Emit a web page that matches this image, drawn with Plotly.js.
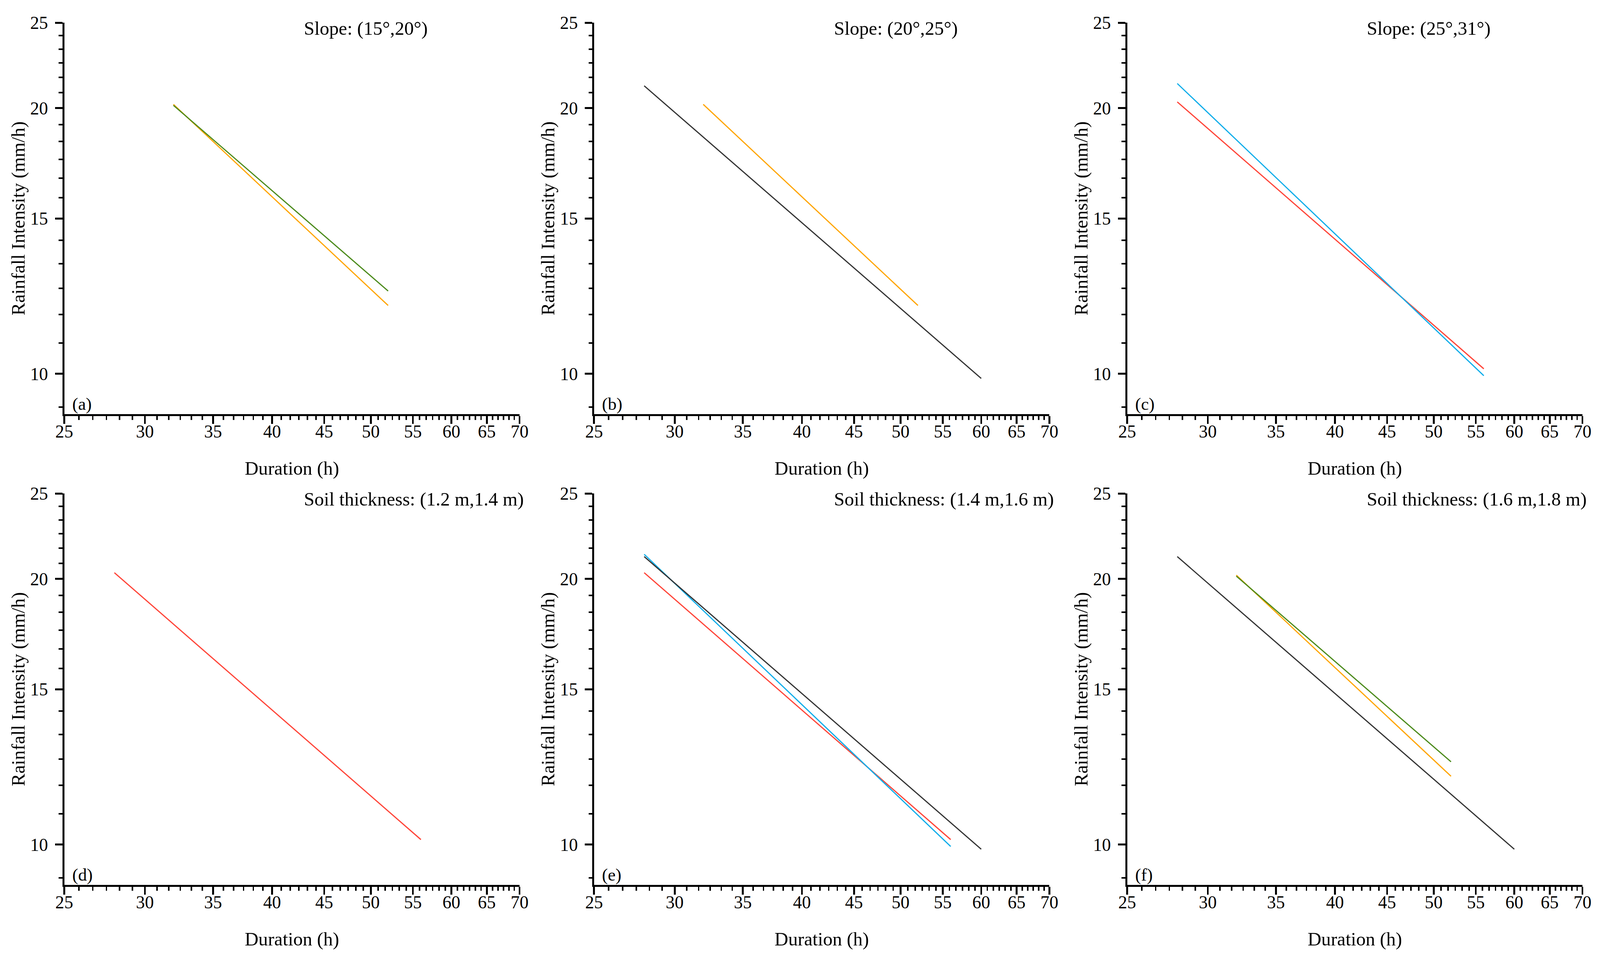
<!DOCTYPE html>
<html><head><meta charset="utf-8">
<script src="https://cdn.plot.ly/plotly-3.0.1.min.js"></script>
<style>html,body{margin:0;padding:0;background:#fff;overflow:hidden}</style>
</head><body><div id="chart"></div>
<script>
// ---- data ----
const greenDuration = [32, 52];
const greenIntensity = [20.15, 12.41];
const orangeDuration = [32, 52];
const orangeIntensity = [20.2, 11.95];
const blackDuration = [28, 60];
const blackIntensity = [21.2, 9.88];
const cyanDuration = [28, 56];
const cyanIntensity = [21.33, 9.95];
const redDuration = [28, 56];
const redIntensity = [20.33, 10.13];

const panelSeries = [
  ['orange', 'green'],
  ['black', 'orange'],
  ['red', 'cyan'],
  ['red'],
  ['red', 'cyan', 'black'],
  ['black', 'orange', 'green']
];
const panelNotes = ['Slope: (15°,20°)', 'Slope: (20°,25°)', 'Slope: (25°,31°)',
  'Soil thickness: (1.2 m,1.4 m)', 'Soil thickness: (1.4 m,1.6 m)', 'Soil thickness: (1.6 m,1.8 m)'];
const panelLetters = ['(a)', '(b)', '(c)', '(d)', '(e)', '(f)'];

const xTickVals = [25, 30, 35, 40, 45, 50, 55, 60, 65, 70];
const yTickVals = [10, 15, 20, 25];
const xTitle = 'Duration (h)';
const yTitle = 'Rainfall Intensity (mm/h)';

// ---- styling ----
const seriesData = {
  green: {x: greenDuration, y: greenIntensity, color: '#4b8a1b'},
  orange: {x: orangeDuration, y: orangeIntensity, color: '#ffa500'},
  black: {x: blackDuration, y: blackIntensity, color: '#333333'},
  cyan: {x: cyanDuration, y: cyanIntensity, color: '#0fadea'},
  red: {x: redDuration, y: redIntensity, color: '#ff4438'}
};

function minorBetween(majors, below) {
  const out = below.slice();
  for (let i = 0; i < majors.length - 1; i++) {
    const step = (majors[i + 1] - majors[i]) / 6;
    for (let j = 1; j < 6; j++) out.push(majors[i] + j * step);
  }
  return out;
}
const xMinor = minorBetween(xTickVals, []);
const yMinor = minorBetween(yTickVals, [10 - 5 / 6]);

const REF_W = 4382, REF_H = 2470;
const W = window.innerWidth || REF_W, H = window.innerHeight || REF_H;
const kx = W / REF_W, ky = H / REF_H;
const px = v => v * kx;
const py = v => v * ky;
const colLeft = [176, 1627, 3087];
const plotW = 1247;
const rowTop = [58, 1263];
const plotH = 1002;
const FONT = 'Liberation Serif, Times New Roman, serif';

const chartDiv = document.getElementById('chart');
chartDiv.style.width = W + 'px';
chartDiv.style.height = H + 'px';

const traces = [];
const layout = {
  width: W, height: H,
  margin: {l: 0, r: 0, t: 0, b: 0},
  paper_bgcolor: '#ffffff', plot_bgcolor: '#ffffff',
  showlegend: false,
  font: {family: FONT, color: '#000000', size: px(48)},
  annotations: []
};

for (let p = 0; p < 6; p++) {
  const col = p % 3, row = Math.floor(p / 3);
  const sfx = p === 0 ? '' : String(p + 1);
  const xa = 'x' + sfx, ya = 'y' + sfx;
  panelSeries[p].forEach(name => {
    const s = seriesData[name];
    traces.push({x: s.x, y: s.y, xaxis: xa, yaxis: ya, type: 'scatter', mode: 'lines',
      line: {color: s.color, width: px(3.2)}, hoverinfo: 'skip'});
  });
  const x0 = colLeft[col] / REF_W, x1 = (colLeft[col] + plotW) / REF_W;
  const y1 = (REF_H - rowTop[row]) / REF_H, y0 = (REF_H - rowTop[row] - plotH) / REF_H;
  layout['xaxis' + sfx] = {
    type: 'log', domain: [x0, x1], range: [Math.log10(25), Math.log10(70)],
    anchor: ya, showline: true, linecolor: '#000', linewidth: py(5), mirror: false,
    showgrid: false, zeroline: false,
    tickmode: 'array', tickvals: xTickVals, ticktext: xTickVals.map(String),
    ticks: 'outside', ticklen: py(20), tickwidth: px(5), tickcolor: '#000',
    ticklabelstandoff: Math.round(-py(20)),
    minor: {tickmode: 'array', tickvals: xMinor, ticks: 'outside', ticklen: py(10), tickwidth: px(4), tickcolor: '#000', showgrid: false},
    tickfont: {family: FONT, size: px(49), color: '#000'},
    title: {text: xTitle, font: {family: FONT, size: px(52), color: '#000'}, standoff: py(54)},
    fixedrange: true
  };
  layout['yaxis' + sfx] = {
    type: 'log', domain: [y0, y1], range: [Math.log10(9), Math.log10(25)],
    anchor: xa, showline: true, linecolor: '#000', linewidth: px(5), mirror: false,
    showgrid: false, zeroline: false,
    tickmode: 'array', tickvals: yTickVals, ticktext: yTickVals.map(String),
    ticks: 'outside', ticklen: px(20), tickwidth: py(5), tickcolor: '#000',
    ticklabelstandoff: Math.round(px(10)),
    minor: {tickmode: 'array', tickvals: yMinor, ticks: 'outside', ticklen: px(10), tickwidth: py(4), tickcolor: '#000', showgrid: false},
    tickfont: {family: FONT, size: px(49), color: '#000'},
    title: {text: yTitle, font: {family: FONT, size: px(52), color: '#000'}, standoff: 0},
    fixedrange: true
  };
  layout.annotations.push({
    xref: xa + ' domain', yref: ya + ' domain', x: 0.525, y: 0.985,
    xanchor: 'left', yanchor: 'middle', showarrow: false,
    text: panelNotes[p], font: {family: FONT, size: px(52), color: '#000'}
  });
  layout.annotations.push({
    xref: xa + ' domain', yref: ya + ' domain', x: 0.016, y: 0.026,
    xanchor: 'left', yanchor: 'middle', showarrow: false,
    text: panelLetters[p], font: {family: FONT, size: px(48), color: '#000'}
  });
}

Plotly.newPlot('chart', traces, layout, {staticPlot: true, displayModeBar: false});
</script></body></html>
